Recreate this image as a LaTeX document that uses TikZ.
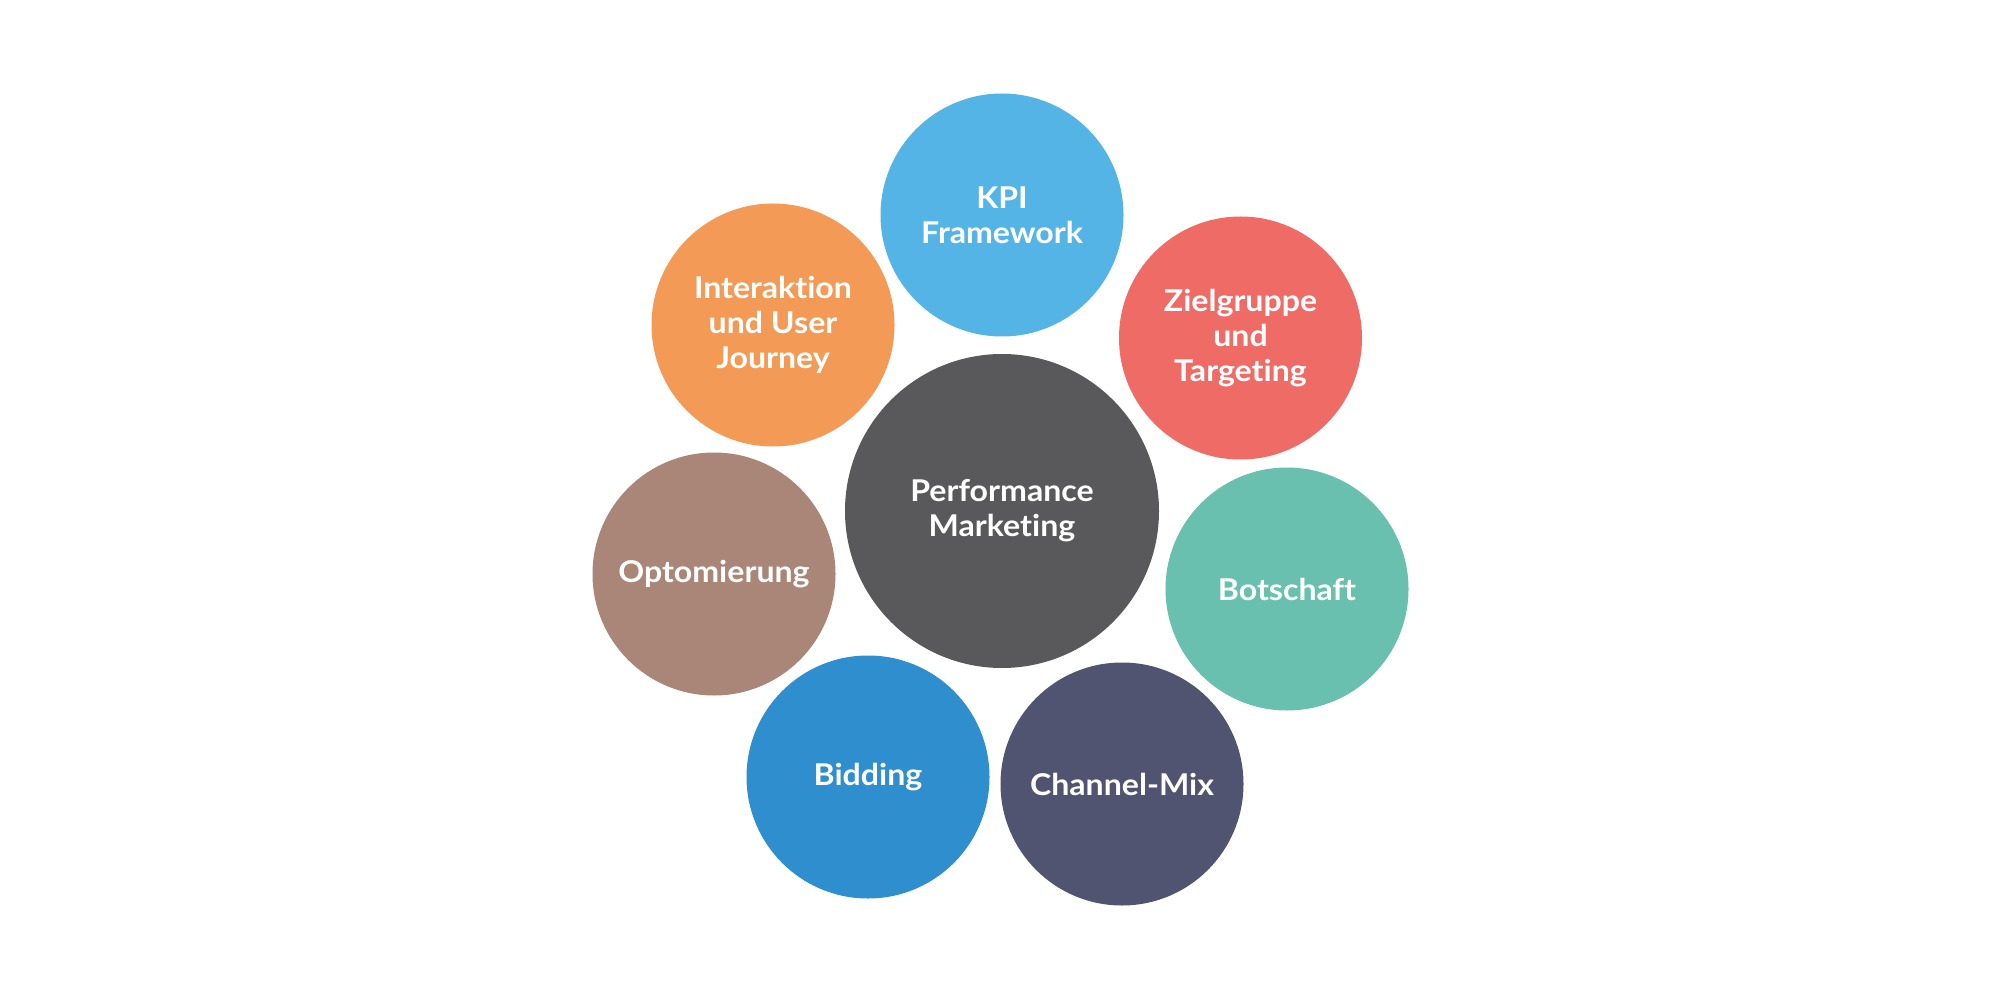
\documentclass[tikz,border=0pt]{standalone}
\usepackage{fontspec}
\setmainfont{Lato}[UprightFont=* Bold, FakeStretch=1.07, RawFeature=-liga]
\definecolor{ckpi}{HTML}{55B4E6}
\definecolor{corange}{HTML}{F39A56}
\definecolor{cred}{HTML}{EE6B66}
\definecolor{cbrown}{HTML}{A98677}
\definecolor{cteal}{HTML}{69C0AF}
\definecolor{cblue}{HTML}{2F8ECE}
\definecolor{cnavy}{HTML}{515470}
\definecolor{cgray}{HTML}{59595B}
\tikzset{
  bubble/.style={circle, inner sep=0pt, minimum size=243pt, text=white, align=center,
    font=\fontsize{30pt}{35pt}\selectfont},
  hub/.style={bubble, minimum size=314pt}
}
\begin{document}
\begin{tikzpicture}[x=1pt,y=-1pt]
\useasboundingbox[fill=white] (0,0) rectangle (2000,1000);
\node[hub, fill=cgray] (pm) at (1002,511) {Performance\\Marketing};
\node[bubble, fill=ckpi] (kpi) at (1002,215) {KPI\\Framework};
\node[bubble, fill=cred] (ziel) at (1240.5,338) {Zielgruppe\\und\\Targeting};
\node[bubble, fill=cteal] (bot) at (1287,589) {Botschaft};
\node[bubble, fill=cnavy] (chan) at (1122,784) {Channel-Mix};
\node[bubble, fill=cblue] (bid) at (868,777) {Bidding};
\node[bubble, fill=cbrown] (opt) at (714,574) {Optomierung};
\node[bubble, fill=corange] (inter) at (773,325) {Interaktion\\und User\\Journey};
\end{tikzpicture}
\end{document}
